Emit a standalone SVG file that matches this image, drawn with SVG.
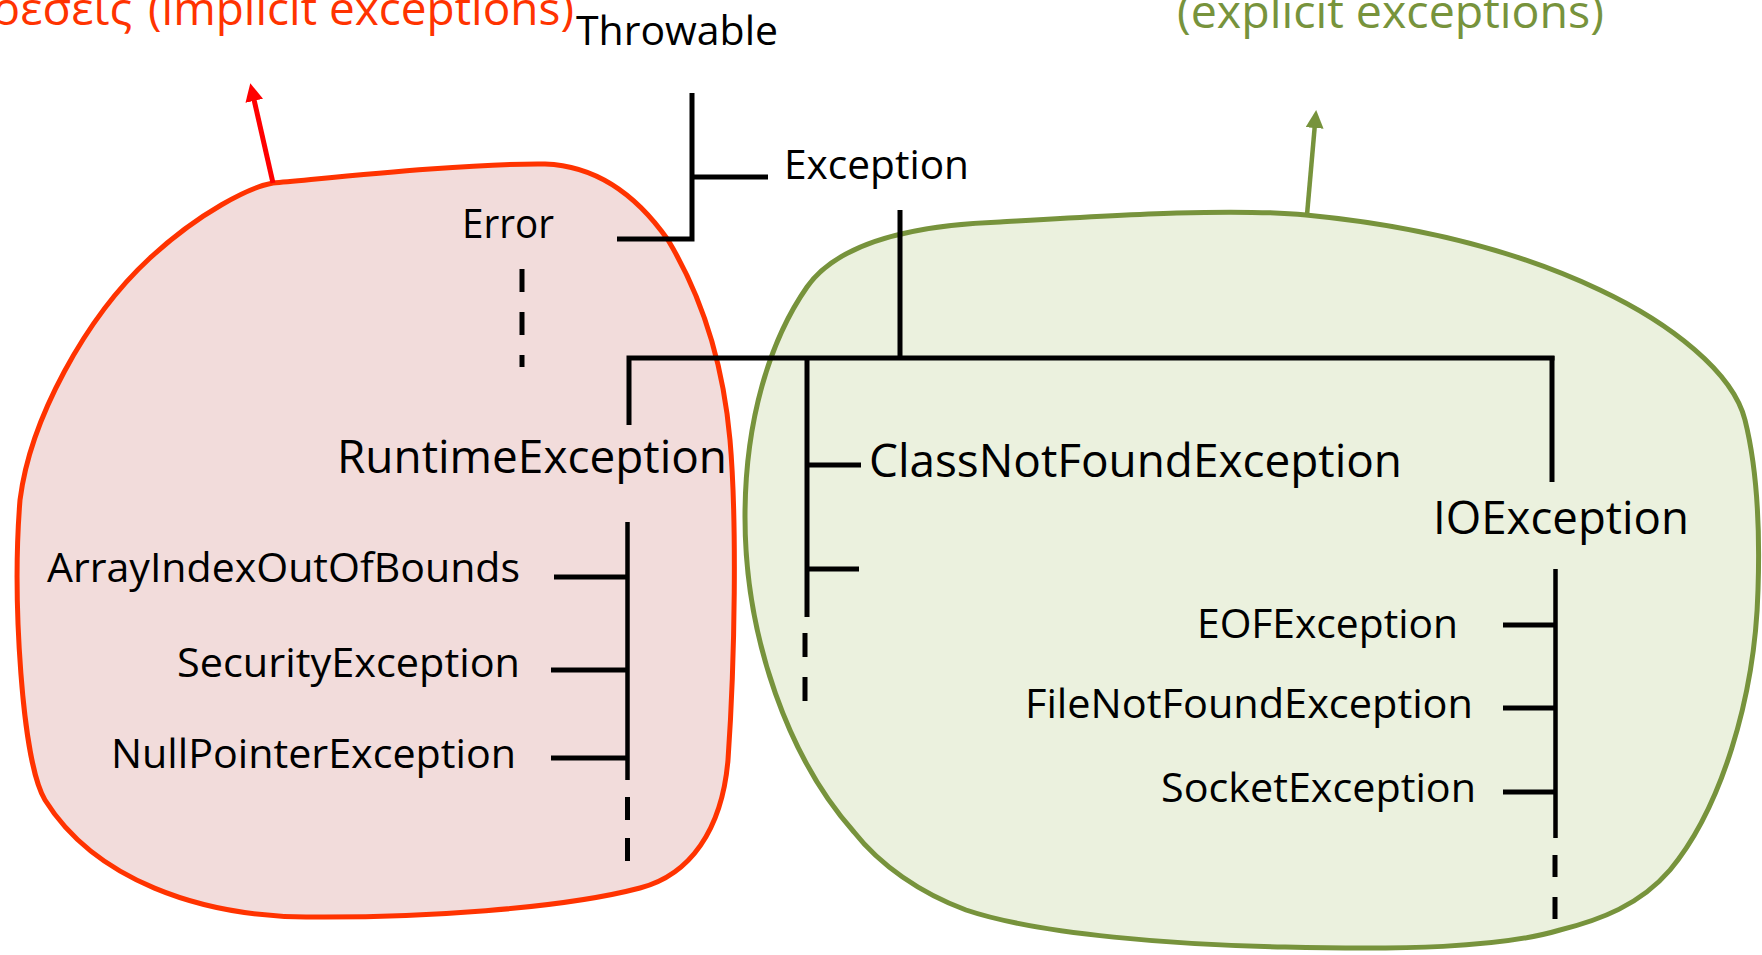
<svg xmlns="http://www.w3.org/2000/svg" width="1762" height="955" viewBox="0 0 1762 955">
  <style>
    .lbl { font-family: "Open Sans", "Noto Sans", sans-serif; fill: #000; }
    .big { font-size: 46px; }
    .mid { font-size: 41px; }
    .top { font-size: 40px; }
    .ln { stroke: #000; stroke-width: 5; fill: none; stroke-linecap: butt; }
    .thin { stroke: #000; stroke-width: 4.5; fill: none; }
    .dash { stroke: #000; stroke-width: 5; fill: none; }
  </style>
  <defs>
    <marker id="headRed" viewBox="0 0 18 18" refX="8" refY="9" markerWidth="18" markerHeight="18" markerUnits="userSpaceOnUse" orient="auto">
      <path d="M0,0 L18,9 L0,18 z" fill="#FF0000"/>
    </marker>
    <marker id="headGreen" viewBox="0 0 18 18" refX="8" refY="9" markerWidth="18" markerHeight="18" markerUnits="userSpaceOnUse" orient="auto">
      <path d="M0,0 L18,9 L0,18 z" fill="#77933C"/>
    </marker>
  </defs>
  <rect width="1762" height="955" fill="#FFFFFF"/>

  <g id="implicit-region">
    <path d="M273,183 C330,178 470,163 545,164 C600,166 640,200 668,240 C695,285 722,350 730,440 C737,520 735,660 728,760 C722,830 690,875 640,888 C560,909 420,918 306,917 C200,916 95,880 45,800 C22,762 12,600 20,500 C30,420 85,318 150,258 C200,212 250,187 273,183 Z" fill="#F2DCDB" stroke="#FF3300" stroke-width="5"/>
  </g>
  <g id="explicit-region">
    <path d="M1000,222 C1120,215 1230,208 1306,215 C1420,226 1520,252 1600,290 C1670,323 1733,372 1745,420 C1757,468 1760,530 1758,590 C1755,700 1720,810 1670,870 C1640,905 1600,920 1560,930 C1500,948 1400,950 1285,947 C1180,945 1040,935 966,910 C920,893 880,865 854,832 C790,760 745,640 745,517 C745,420 770,340 807,287 C840,240 920,225 1000,222 Z" fill="#EBF1DE" stroke="#77933C" stroke-width="5"/>
  </g>

  <g id="implicit-label">
    <text class="lbl" x="-8" y="25" font-size="46" textLength="140" lengthAdjust="spacingAndGlyphs" style="fill:#FF3300">ρέσεις</text>
    <text class="lbl" x="148" y="25" font-size="46" textLength="426" lengthAdjust="spacingAndGlyphs" style="fill:#FF3300">(implicit exceptions)</text>
  </g>
  <g id="explicit-label">
    <text class="lbl" x="1177" y="28" font-size="46" textLength="427" lengthAdjust="spacingAndGlyphs" style="fill:#77933C">(explicit exceptions)</text>
  </g>

  <g id="connectors">
    <line x1="273" y1="183" x2="252.5" y2="93" stroke="#FF0000" stroke-width="5" marker-end="url(#headRed)"/>
    <line x1="1307" y1="215" x2="1315.3" y2="120" stroke="#77933C" stroke-width="4.5" marker-end="url(#headGreen)"/>

    <path class="ln" d="M692,93 V241 M692,177 H768 M617,239 H694.5"/>
    <line class="dash" x1="522" y1="269" x2="522" y2="367" stroke-dasharray="23 20"/>
    <path class="ln" d="M900,210 V358 M626.5,358 H1554.5 M629,356 V425"/>
    <path class="ln" d="M807,358 V617 M807,465 H861 M807,569 H859"/>
    <line class="dash" x1="805" y1="633" x2="805" y2="701" stroke-dasharray="24 20"/>
    <path class="ln" d="M1552,356 V482"/>

    <path class="thin" d="M627.5,522 V780"/>
    <path class="ln" d="M554,577 H627.5 M551,670 H627.5 M551,758 H627.5"/>
    <line class="dash" x1="627.5" y1="797" x2="627.5" y2="862" stroke-dasharray="23 18"/>

    <path class="thin" d="M1555.5,569 V838"/>
    <path class="ln" d="M1503,625 H1555 M1503,708 H1555 M1503,792 H1555"/>
    <line class="dash" x1="1555" y1="855" x2="1555" y2="920" stroke-dasharray="22 20"/>
  </g>

  <g id="n-throwable"><text class="lbl top" x="576" y="45" textLength="202" lengthAdjust="spacingAndGlyphs">Throwable</text></g>
  <g id="n-exception"><text class="lbl top" x="784" y="179" textLength="185" lengthAdjust="spacingAndGlyphs">Exception</text></g>
  <g id="n-error"><text class="lbl top" x="462" y="238" textLength="92" lengthAdjust="spacingAndGlyphs">Error</text></g>
  <g id="n-runtime"><text class="lbl big" x="337" y="473" textLength="390" lengthAdjust="spacingAndGlyphs">RuntimeException</text></g>
  <g id="n-classnotfound"><text class="lbl big" x="869" y="477" textLength="533" lengthAdjust="spacingAndGlyphs">ClassNotFoundException</text></g>
  <g id="n-ioexception"><text class="lbl big" x="1433" y="534" textLength="256" lengthAdjust="spacingAndGlyphs">IOException</text></g>
  <g id="n-arrayindex"><text class="lbl mid" x="47" y="582" textLength="473" lengthAdjust="spacingAndGlyphs">ArrayIndexOutOfBounds</text></g>
  <g id="n-security"><text class="lbl mid" x="177" y="677" textLength="343" lengthAdjust="spacingAndGlyphs">SecurityException</text></g>
  <g id="n-nullpointer"><text class="lbl mid" x="111" y="768" textLength="405" lengthAdjust="spacingAndGlyphs">NullPointerException</text></g>
  <g id="n-eof"><text class="lbl mid" x="1197" y="638" textLength="261" lengthAdjust="spacingAndGlyphs">EOFException</text></g>
  <g id="n-filenotfound"><text class="lbl mid" x="1025" y="718" textLength="448" lengthAdjust="spacingAndGlyphs">FileNotFoundException</text></g>
  <g id="n-socket"><text class="lbl mid" x="1161" y="802" textLength="315" lengthAdjust="spacingAndGlyphs">SocketException</text></g>
</svg>
